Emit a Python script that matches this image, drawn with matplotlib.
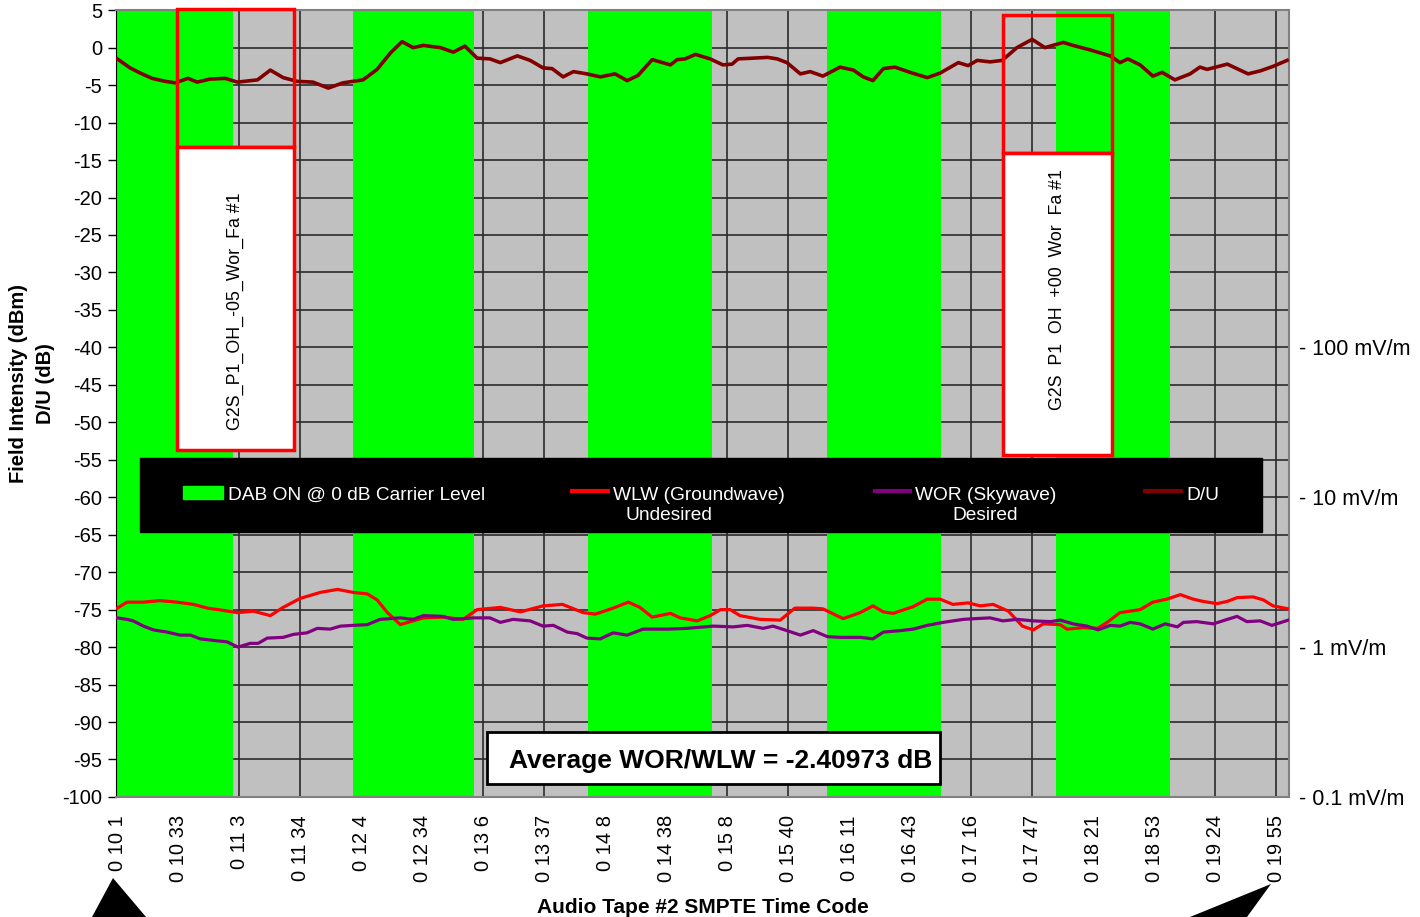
import matplotlib
matplotlib.use("Agg")
import matplotlib.pyplot as plt
from matplotlib.patches import Rectangle, Polygon

plt.rcParams['font.family'] = ['Liberation Sans', 'DejaVu Sans']
plt.rcParams['axes.unicode_minus'] = False

# sample positions: 10 samples between consecutive time-code labels
tick_labels = ['0 10 1', '0 10 33', '0 11 3', '0 11 34', '0 12 4', '0 12 34',
               '0 13 6', '0 13 37', '0 14 8', '0 14 38', '0 15 8', '0 15 40',
               '0 16 11', '0 16 43', '0 17 16', '0 17 47', '0 18 21', '0 18 53',
               '0 19 24', '0 19 55']
tick_pos = [0, 10, 20, 30, 40, 50, 60, 70, 80, 90, 100, 110, 120, 130, 140,
            150, 160, 170, 180, 190]

# DAB ON periods (start, end) in samples
dab_start = [-0.2, 38.7, 77.2, 116.4, 153.9]
dab_end = [18.9, 58.5, 97.5, 135.1, 172.6]

# D/U (dB)
du_x = [0, 2.1, 3.8, 5.7, 7.9, 9.5, 11.6, 13.1, 15.2, 17.7, 19.7, 23.0, 25.1,
        27.2, 29.5, 32.1, 34.6, 37.0, 40.3, 42.6, 44.8, 46.7, 48.5, 50.2, 53.0,
        55.1, 57.0, 59.0, 61.1, 62.8, 65.6, 67.7, 69.8, 71.3, 73.1, 74.8, 77.0,
        79.2, 81.6, 83.6, 85.4, 87.7, 90.7, 91.8, 93.1, 94.8, 97.2, 99.3, 100.8,
        101.8, 104.3, 106.6, 108.2, 109.8, 112.0, 113.6, 115.7, 118.5, 120.7,
        122.3, 123.9, 125.6, 127.5, 130.0, 132.8, 134.9, 137.9, 139.5, 141.0,
        143.1, 145.1, 147.5, 150.0, 152.1, 155.1, 156.7, 159.5, 162.8, 164.4,
        165.7, 167.7, 169.8, 171.3, 173.4, 175.9, 177.5, 178.7, 182.0, 185.4,
        187.4, 189.5, 191.8]
du_db = [-1.5, -2.7, -3.4, -4.1, -4.5, -4.7, -4.1, -4.6, -4.2, -4.1, -4.6, -4.3,
         -3.0, -4.0, -4.5, -4.6, -5.4, -4.7, -4.3, -2.9, -0.7, 0.8, 0.0, 0.3,
         0.0, -0.6, 0.2, -1.4, -1.5, -2.0, -1.1, -1.7, -2.7, -2.8, -3.9, -3.2,
         -3.5, -3.9, -3.5, -4.4, -3.7, -1.6, -2.3, -1.6, -1.5, -0.9, -1.5, -2.3,
         -2.2, -1.5, -1.4, -1.3, -1.5, -2.0, -3.5, -3.2, -3.8, -2.6, -3.0, -3.9,
         -4.4, -2.8, -2.6, -3.3, -4.0, -3.4, -2.0, -2.4, -1.7, -1.9, -1.7, 0.0,
         1.1, 0.0, 0.7, 0.3, -0.3, -1.1, -2.0, -1.5, -2.3, -3.8, -3.3, -4.3,
         -3.5, -2.6, -2.9, -2.2, -3.5, -3.1, -2.5, -1.7]

# WLW groundwave, undesired (dBm)
wlw_x = [0, 1.6, 4.3, 7.0, 9.8, 12.5, 14.8, 17.4, 19.7, 22.3, 25.1, 27.2, 30.0,
         33.3, 36.1, 38.7, 41.0, 42.6, 44.3, 46.4, 48.5, 50.2, 53.4, 56.7, 59.0,
         61.6, 62.8, 66.1, 69.8, 73.0, 76.4, 78.4, 81.3, 83.8, 85.7, 87.7, 90.7,
         92.3, 95.1, 97.2, 98.9, 100.5, 102.1, 105.4, 108.7, 111.1, 114.1, 115.7,
         119.0, 121.8, 123.9, 125.6, 127.2, 130.5, 132.8, 134.9, 137.0, 139.5,
         141.5, 143.6, 146.1, 148.4, 150.2, 151.8, 154.6, 155.7, 158.4, 160.7,
         162.3, 164.4, 167.7, 169.8, 172.1, 174.3, 176.4, 178.0, 180.3, 182.0,
         183.6, 186.2, 187.9, 189.5, 192.0]
wlw_db = [-74.8, -74.0, -74.0, -73.8, -74.0, -74.3, -74.8, -75.1, -75.4, -75.2,
          -75.8, -74.7, -73.5, -72.7, -72.3, -72.7, -72.9, -73.7, -75.4, -77.0,
          -76.5, -76.1, -76.0, -76.3, -75.0, -74.8, -74.7, -75.3, -74.5, -74.3,
          -75.4, -75.6, -74.8, -74.0, -74.7, -76.0, -75.5, -76.1, -76.5, -75.8,
          -75.0, -75.0, -75.8, -76.3, -76.4, -74.8, -74.8, -74.9, -76.2, -75.4,
          -74.5, -75.3, -75.5, -74.6, -73.6, -73.6, -74.3, -74.1, -74.5, -74.3,
          -75.2, -77.2, -77.7, -76.9, -77.0, -77.6, -77.4, -77.5, -76.7, -75.4,
          -75.0, -74.0, -73.6, -73.0, -73.6, -73.9, -74.2, -73.9, -73.4, -73.3,
          -73.7, -74.5, -74.9]

# WOR skywave, desired (dBm)
wor_x = [0, 1.6, 2.6, 4.3, 5.9, 8.2, 10.3, 12.0, 13.6, 15.7, 18.0, 19.8, 21.8,
         23.1, 24.6, 27.2, 28.9, 31.1, 32.8, 34.9, 36.6, 38.7, 41.0, 43.1, 46.4,
         48.5, 50.2, 53.4, 55.1, 58.4, 61.1, 62.8, 64.9, 67.7, 69.8, 71.5, 73.8,
         75.4, 77.0, 79.2, 81.3, 83.6, 86.2, 90.2, 93.4, 97.7, 101.0, 103.3,
         105.9, 107.5, 109.8, 112.0, 114.1, 116.4, 118.5, 121.8, 123.9, 125.6,
         128.4, 130.5, 132.8, 135.4, 138.7, 140.7, 143.1, 145.2, 147.5, 150.2,
         153.0, 154.6, 156.7, 159.0, 160.8, 162.8, 164.4, 166.1, 167.7, 169.8,
         171.8, 173.8, 174.8, 177.0, 179.7, 182.0, 183.6, 185.2, 187.4, 189.3,
         192.0]
wor_db = [-76.1, -76.3, -76.5, -77.2, -77.7, -78.0, -78.4, -78.4, -78.9, -79.1,
          -79.3, -80.0, -79.5, -79.5, -78.8, -78.7, -78.3, -78.1, -77.5, -77.6,
          -77.2, -77.1, -77.0, -76.3, -76.1, -76.3, -75.8, -75.9, -76.3, -76.1,
          -76.1, -76.7, -76.3, -76.5, -77.2, -77.1, -78.0, -78.2, -78.8, -78.9,
          -78.1, -78.4, -77.6, -77.6, -77.5, -77.2, -77.3, -77.1, -77.5, -77.2,
          -77.8, -78.4, -77.8, -78.6, -78.7, -78.7, -78.9, -78.0, -77.8, -77.6,
          -77.1, -76.7, -76.3, -76.2, -76.1, -76.5, -76.3, -76.5, -76.6, -76.4,
          -76.9, -77.2, -77.7, -77.1, -77.2, -76.7, -76.9, -77.6, -76.9, -77.3,
          -76.7, -76.6, -76.9, -76.3, -75.9, -76.6, -76.5, -77.1, -76.4]

field_ticks = [-40, -60, -80, -100]
field_labels = ['- 100 mV/m', '- 10 mV/m', '- 1 mV/m', '- 0.1 mV/m']

avg_text = 'Average WOR/WLW = -2.40973 dB'

fig = plt.figure(figsize=(14.2, 9.17), dpi=100)
ax = fig.add_axes([0.0817, 0.1309, 0.826, 0.858])
ax.set_facecolor('#C0C0C0')
ax.set_xlim(-0.2, 192.1)
ax.set_ylim(-100, 5)

# grid sits under the green DAB bands
ax.set_axisbelow(True)
ax.grid(True, color='#2a2a2a', linewidth=1.2)

for s, e in zip(dab_start, dab_end):
    ax.axvspan(s, e, color='#00FF00', zorder=1, linewidth=0)

ax.plot(du_x, du_db, color='#800000', lw=2.6, zorder=3)
ax.plot(wlw_x, wlw_db, color='#FF0000', lw=2.3, zorder=3)
ax.plot(wor_x, wor_db, color='#800080', lw=2.3, zorder=3)

ax.set_yticks(range(-100, 6, 5))
ax.set_xticks(tick_pos)
ax.set_xticklabels(tick_labels, rotation=90, fontsize=14.5)
ax.tick_params(axis='y', labelsize=14.5, length=6, width=1, color='black',
               pad=4)
ax.tick_params(axis='x', length=0, pad=13)
for side in ['top', 'right', 'bottom']:
    ax.spines[side].set_color('#808080')
    ax.spines[side].set_linewidth(1.5)
ax.spines['left'].set_color('black')

ax.set_ylabel('Field Intensity (dBm)\nD/U (dB)', fontsize=14.5,
              fontweight='bold', linespacing=1.55)
ax.yaxis.set_label_coords(-0.052, 0.525)
ax.set_xlabel('Audio Tape #2 SMPTE Time Code', fontsize=15,
              fontweight='bold', labelpad=11)

# field strength reference on the right side
ax2 = ax.twinx()
ax2.set_ylim(-100, 5)
ax2.set_yticks(field_ticks)
ax2.set_yticklabels(field_labels, fontsize=15.5)
ax2.tick_params(axis='y', length=0, pad=7)
for sp in ax2.spines.values():
    sp.set_visible(False)

# test-point boxes
boxes = [
    (9.8, 29.0, 5.1, -13.2, -53.7, -35.2, 'G2S_P1_OH_-05_Wor_Fa #1'),
    (145.2, 163.1, 4.4, -14.0, -54.3, -32.3, 'G2S  P1  OH  +00  Wor  Fa #1'),
]
for x0, x1, top, mid, bot, ty, label in boxes:
    ax.add_patch(Rectangle((x0, mid), x1 - x0, top - mid, fill=False,
                           edgecolor='#FF0000', lw=2.5, zorder=5,
                           clip_on=False))
    ax.add_patch(Rectangle((x0, bot), x1 - x0, mid - bot, facecolor='white',
                           edgecolor='#FF0000', lw=2.5, zorder=5))
    ax.text((x0 + x1) / 2, ty, label, rotation=90, fontsize=12.8,
            ha='center', va='center', zorder=6)

# legend panel
ax.add_patch(Rectangle((3.8, -64.7), 183.9, 10.0, facecolor='black',
                       edgecolor='black', zorder=7))
ax.add_patch(Rectangle((10.8, -60.3), 6.6, 1.8, facecolor='#00FF00',
                       edgecolor='#00FF00', zorder=8))
ax.text(18.2, -59.8, 'DAB ON @ 0 dB Carrier Level', color='white',
        fontsize=13.8, va='center', zorder=8)
narrow = ['Liberation Sans Narrow', 'Liberation Sans', 'DejaVu Sans']
legend_lines = [
    (74.3, 80.8, '#FF0000', 'WLW (Groundwave)', 'Undesired', 90.5),
    (123.9, 130.3, '#800080', 'WOR (Skywave)', 'Desired', 142.3),
    (168.2, 174.8, '#800000', 'D/U', None, None),
]
for x0, x1, col, lab, sub, subx in legend_lines:
    ax.plot([x0, x1], [-59.2, -59.2], color=col, lw=3, zorder=8,
            solid_capstyle='butt')
    ax.text(x1 + 0.5, -59.8, lab, color='white', fontsize=13.8, va='center',
            zorder=8)
    if sub:
        ax.text(subx, -62.5, sub, color='white', fontsize=13.8, va='center',
                ha='center', family=narrow, zorder=8)

# average D/U box
ax.add_patch(Rectangle((60.7, -98.3), 74.2, 7.0, facecolor='white',
                       edgecolor='black', lw=2, zorder=9))
ax.text(64.2, -95.2, avg_text, fontsize=19, fontweight='bold', ha='left',
        va='center', zorder=10)

# start/end markers below the time axis
fig.patches.append(Polygon([(92 / 1420, 0), (146 / 1420, 0),
                            (113 / 1420, 1 - 878 / 917)], closed=True,
                           facecolor='black', transform=fig.transFigure))
fig.patches.append(Polygon([(1190 / 1420, 0), (1247 / 1420, 0),
                            (1271 / 1420, 1 - 884 / 917)], closed=True,
                           facecolor='black', transform=fig.transFigure))

fig.savefig('out.png', dpi=100)
